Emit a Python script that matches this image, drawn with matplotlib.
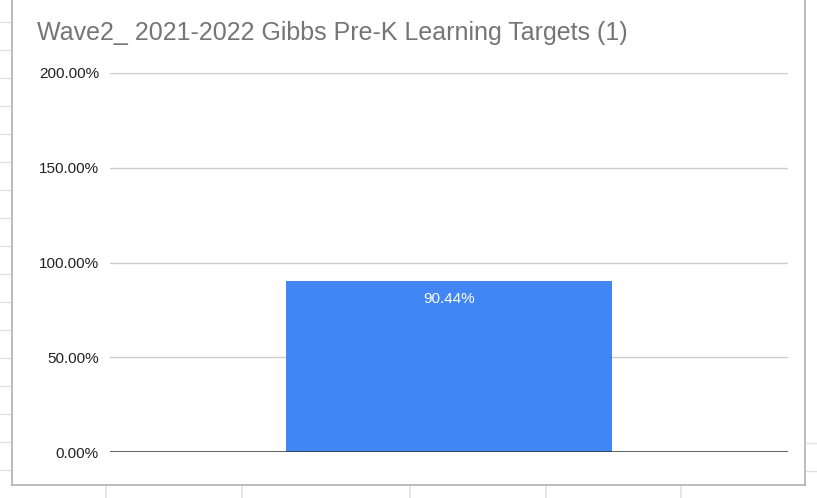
"""
Single-bar chart of the Wave2 2021-2022 Gibbs Pre-K learning target rate,
styled like a Google Sheets chart sitting inside a spreadsheet.
"""

import matplotlib.pyplot as plt
from matplotlib.lines import Line2D
from matplotlib.ticker import FuncFormatter

PLOT_FILE = "out.png"

TITLE = "Wave2_ 2021-2022 Gibbs Pre-K Learning Targets (1)"
CATEGORIES = [""]
VALUES = [90.44]
Y_TICKS = [0, 50, 100, 150, 200]

BAR_COLOR = "#4285F4"
TITLE_COLOR = "#757575"
GRID_COLOR = "#cccccc"
SHEET_LINE = "#e2e2e2"
FRAME_COLOR = "#b0b0b0"


def draw_sheet_background(fig):
    """Draws the spreadsheet cell lines and the chart frame around the plot."""
    W, H = 817, 498

    def hline(x0, x1, y, color, lw):
        fig.add_artist(Line2D([x0 / W, x1 / W], [1 - y / H, 1 - y / H],
                              color=color, lw=lw, transform=fig.transFigure))

    def vline(x, y0, y1, color, lw):
        fig.add_artist(Line2D([x / W, x / W], [1 - y0 / H, 1 - y1 / H],
                              color=color, lw=lw, transform=fig.transFigure))

    # spreadsheet rows peeking out on the left and right
    for y in range(22, 480, 28):
        hline(0, 11, y, SHEET_LINE, 1.0)
    for y in [443, 471]:
        hline(806, 817, y, SHEET_LINE, 1.0)
    # spreadsheet columns below the chart
    for x in [106, 242, 410, 546, 681]:
        vline(x, 487, 498, SHEET_LINE, 1.2)

    # chart frame
    vline(11.5, 0, 485, FRAME_COLOR, 1.2)
    vline(805, 0, 485, FRAME_COLOR, 1.2)
    hline(11.5, 805, 485, FRAME_COLOR, 1.2)


def plot_chart():
    plt.rcParams["font.family"] = ["Liberation Sans", "DejaVu Sans"]
    fig = plt.figure(figsize=(8.17, 4.98), dpi=100)
    ax = fig.add_axes([110 / 817, 46 / 498, 678 / 817, 379 / 498])

    x = list(range(len(CATEGORIES)))
    bars = ax.bar(x, VALUES, width=0.48, color=BAR_COLOR, zorder=2)
    ax.set_xlim(-0.5, 0.5)
    ax.set_ylim(0, 200)

    ax.set_yticks(Y_TICKS)
    ax.yaxis.set_major_formatter(FuncFormatter(lambda v, _: f"{v:.2f}%"))
    ax.tick_params(axis="y", length=0, pad=8, labelsize=11, labelcolor="#222222")
    ax.set_xticks([])
    ax.grid(axis="y", color=GRID_COLOR, lw=1.0, zorder=0)
    ax.axhline(0, color="#333333", lw=1.8, zorder=3)

    for spine in ax.spines.values():
        spine.set_visible(False)

    for bar, val in zip(bars, VALUES):
        ax.annotate(f"{val:.2f}%", (bar.get_x() + bar.get_width() / 2, val),
                    xytext=(0, -13), textcoords="offset points",
                    ha="center", va="center", color="white", fontsize=11)

    fig.text(37 / 817, 1 - 33 / 498, TITLE, color=TITLE_COLOR,
             fontsize=18, ha="left", va="center")

    draw_sheet_background(fig)
    fig.savefig(PLOT_FILE, dpi=100)


if __name__ == "__main__":
    plot_chart()
